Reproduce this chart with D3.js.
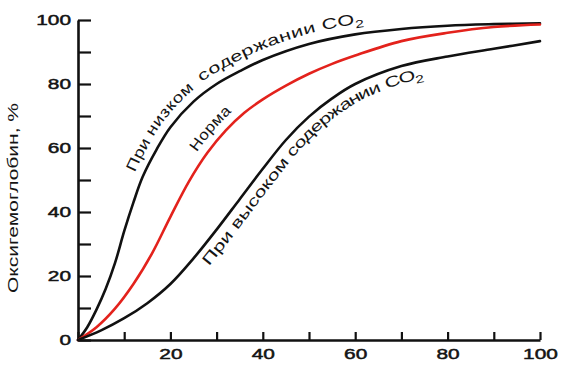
<!DOCTYPE html>
<html>
<head>
<meta charset="utf-8">
<script src="https://cdn.jsdelivr.net/npm/d3@7"></script>
<style>
  html, body { margin: 0; padding: 0; background: #ffffff; }
  svg { display: block; }
  text { font-family: "Liberation Sans", Arial, sans-serif; fill: #141414; }
</style>
</head>
<body>
<svg id="chart" width="569" height="368"></svg>
<script>
// ---- data ----
const xTicks = [0, 10, 20, 30, 40, 50, 60, 70, 80, 90, 100];
const yTicks = [0, 10, 20, 30, 40, 50, 60, 70, 80, 90, 100];
const xTickLabels = ["", "", "20", "", "40", "", "60", "", "80", "", "100"];
const yTickLabels = ["0", "", "20", "", "40", "", "60", "", "80", "", "100"];
const yAxisTitle = "Оксигемоглобин, %";

// Low CO2 (left-shifted) curve
const pO2Low = [0, 2, 4, 6, 8, 10, 12, 14, 17, 20, 25, 30, 35, 40, 50, 60, 70, 80, 90, 100];
const satLow = [0, 4, 9.5, 16, 24, 34, 43, 51, 59.5, 66.5, 74.5, 80, 84, 87.5, 92.5, 95.5, 97.2, 98.2, 98.7, 99];
// Normal curve (red)
const pO2Norm = [0, 4, 8, 12, 16, 20, 24, 28, 32, 36, 40, 45, 50, 55, 60, 70, 80, 90, 100];
const satNorm = [0, 4, 9.8, 17.5, 27, 38.5, 49.5, 58.5, 65.5, 71, 75.2, 79.5, 83.2, 86.3, 88.9, 93.4, 96, 97.8, 98.6];
// High CO2 (right-shifted) curve
const pO2High = [0, 5, 10, 15, 20, 25, 30, 35, 40, 45, 50, 55, 60, 70, 80, 90, 100];
const satHigh = [0, 3.0, 6.8, 11.5, 17.5, 25.5, 34.5, 44, 53.5, 62.5, 69.8, 75.5, 80, 85.6, 88.6, 91, 93.4];

const curveColors = ["#111111", "#e3221c", "#111111"];
const labelLow1 = "При низком";
const labelLow2 = "содержании CO";
const labelNorm = "Норма";
const labelHigh = "При высоком содержании CO";
const subscript = "2";

// ---- drawing ----
const svg = d3.select("#chart");
const x = d3.scaleLinear().domain([0, 100]).range([78, 540]);
const y = d3.scaleLinear().domain([0, 100]).range([340, 20]);

const series = [
  { name: "low", xs: pO2Low, ys: satLow },
  { name: "norm", xs: pO2Norm, ys: satNorm },
  { name: "high", xs: pO2High, ys: satHigh }
];

const line = d3.line()
  .x(d => x(d[0]))
  .y(d => y(d[1]))
  .curve(d3.curveCatmullRom.alpha(0.5));

const charW = 11.6;

function styleTickText(sel) {
  sel.attr("font-size", 15)
    .attr("fill", "#141414")
    .attr("stroke", "#141414")
    .attr("stroke-width", 0.5)
    .attr("font-family", "Liberation Sans, Arial, sans-serif")
    .each(function() {
      const t = d3.select(this).text();
      if (t.length) d3.select(this).attr("textLength", t.length * charW).attr("lengthAdjust", "spacingAndGlyphs");
    });
}

// Y axis
const yAxis = d3.axisLeft(y)
  .tickValues(yTicks)
  .tickSize(-13)
  .tickSizeOuter(0)
  .tickPadding(7)
  .tickFormat((d, i) => yTickLabels[i]);
const gy = svg.append("g").attr("transform", `translate(${x(0)},0)`).call(yAxis);
gy.select(".domain").attr("stroke", "#111").attr("stroke-width", 2.6);
gy.selectAll(".tick line").attr("stroke", "#111").attr("stroke-width", 2.2);
styleTickText(gy.selectAll(".tick text"));

// X axis
const xAxis = d3.axisBottom(x)
  .tickValues(xTicks)
  .tickSize(-8)
  .tickSizeOuter(0)
  .tickPadding(8)
  .tickFormat((d, i) => xTickLabels[i]);
const gx = svg.append("g").attr("transform", `translate(0,${y(0)})`).call(xAxis);
gx.select(".domain").attr("stroke", "#111").attr("stroke-width", 2.6);
gx.selectAll(".tick line").attr("stroke", "#111").attr("stroke-width", 2.2);
styleTickText(gx.selectAll(".tick text"));

// Y title
svg.append("text")
  .attr("transform", `translate(18,198) rotate(-90)`)
  .attr("text-anchor", "middle")
  .attr("font-size", 15)
  .attr("textLength", 190)
  .attr("lengthAdjust", "spacingAndGlyphs")
  .text(yAxisTitle);

// Curves
const paths = {};
series.forEach((s, i) => {
  const pts = s.xs.map((v, j) => [v, s.ys[j]]);
  paths[s.name] = svg.append("path")
    .attr("id", "curve-" + s.name)
    .attr("d", line(pts))
    .attr("fill", "none")
    .attr("stroke", curveColors[i])
    .attr("stroke-width", 2.6)
    .attr("stroke-linecap", "round");
});

function offsetAtX(node, px) {
  const L = node.getTotalLength();
  let best = 0, bd = Infinity;
  for (let l = 0; l <= L; l += 0.5) {
    const p = node.getPointAtLength(l);
    const dd = Math.abs(p.x - px);
    if (dd < bd) { bd = dd; best = l; }
  }
  return best;
}

function curveLabel(name, txt, startPx, dy, len, sub) {
  const node = paths[name].node();
  const t = svg.append("text")
    .attr("font-size", 15)
    .attr("dy", dy);
  const tp = t.append("textPath")
    .attr("href", "#curve-" + name)
    .attr("xlink:href", "#curve-" + name)
    .attr("startOffset", offsetAtX(node, startPx))
    .attr("textLength", len)
    .attr("lengthAdjust", "spacingAndGlyphs");
  tp.append("tspan").text(txt);
  if (sub) tp.append("tspan").attr("font-size", 11).attr("dy", 4).text(sub);
}

curveLabel("low", labelLow1, 143, -9, 100, null);
curveLabel("low", labelLow2, 207, -10, 170, subscript);
curveLabel("norm", labelNorm, 204, -9, 52, null);
curveLabel("high", labelHigh, 196, 17, 305, subscript);
</script>
</body>
</html>
